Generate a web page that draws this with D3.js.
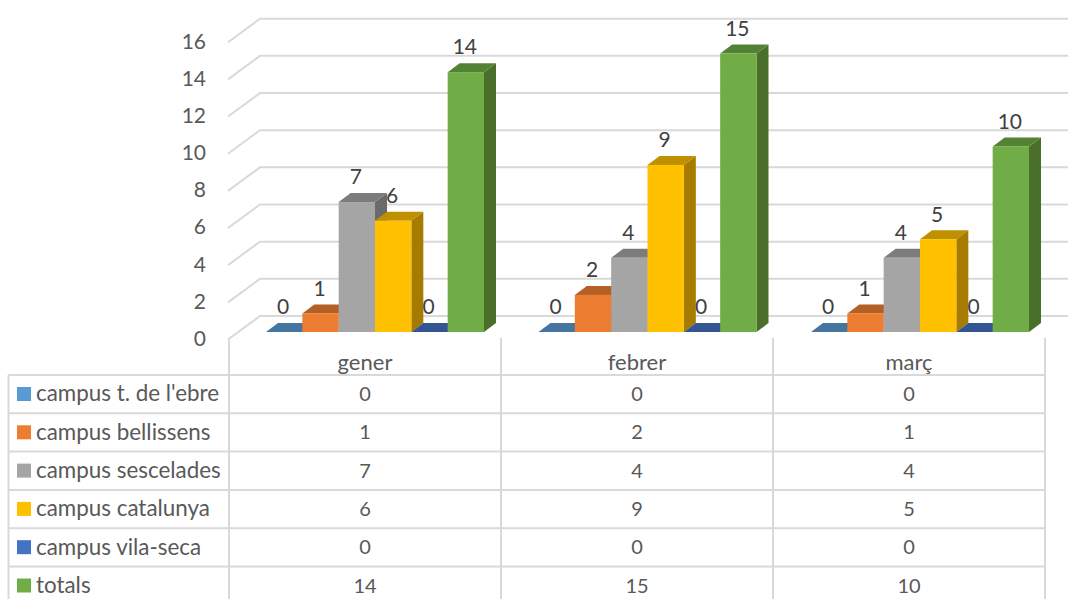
<!DOCTYPE html>
<html><head><meta charset="utf-8">
<script src="https://cdn.jsdelivr.net/npm/d3@7"></script>
<style>html,body{margin:0;padding:0;background:#fff;overflow:hidden}svg{display:block}text{font-family:Lato,"Open Sans",sans-serif}</style>
</head><body><svg id="c" width="1068" height="599"></svg>
<script>
const months = ["gener","febrer","març"];
const seriesNames = ["campus t. de l'ebre","campus bellissens","campus sescelades","campus catalunya","campus vila-seca","totals"];
const tebre = [0,0,0];
const bellissens = [1,2,1];
const sescelades = [7,4,4];
const catalunya = [6,9,5];
const vilaseca = [0,0,0];
const totals = [14,15,10];
const allValues = [tebre,bellissens,sescelades,catalunya,vilaseca,totals];
const yTicks = [0,2,4,6,8,10,12,14,16];
const frontColors = ["#5b9bd5","#ed7d31","#a5a5a5","#ffc000","#4472c4","#70ad47"];
const topColors = ["#44759f","#b65f25","#7c7c7c","#bf9000","#335593","#548235"];
const sideColors = ["#3a6488","#9c5120","#6a6a6a","#a67c00","#2c4a80","#4a6f2b"];

const svg = d3.select("#c");
const grid = "#d9d9d9";
const x0 = d3.scaleBand().domain(months).range([229,1045]);
const xBars = d3.scaleBand().domain(months).range([229,1046.5]);
const x1 = d3.scaleBand().domain(seriesNames).range([37,255]);
const yBar = d3.scaleLinear().domain([0,16]).range([332,35]);
const yWall = d3.scaleLinear().domain([0,16]).range([316,18.7]);
const yLabel = d3.scaleLinear().domain([0,16]).range([338.5,41.5]);
const depthX = 12, depthY = 9, wallDX = 32, wallDY = 23.5;

// walls
const g = svg.append("g").attr("fill","none").attr("stroke",grid).attr("stroke-width",2);
yTicks.forEach(t=>{
  const y = yWall(t);
  g.append("path").attr("d",`M${229-1},${y+wallDY}L260,${y}L1068,${y}`);
});
// axis labels
svg.append("g").selectAll("text").data(yTicks).join("text")
  .attr("x",206).attr("y",d=>yLabel(d)).attr("dy","0.35em").attr("text-anchor","end")
  .attr("font-size",21).attr("fill","#595959").text(d=>d);

// table
const rowLines = d3.scaleLinear().domain([0,1]).range([375,413.3]);
const tg = svg.append("g").attr("stroke",grid).attr("stroke-width",2);
[0,1,2,3,4,5].forEach(i=>{
  tg.append("line").attr("x1",8.5).attr("x2",1045).attr("y1",rowLines(i)).attr("y2",rowLines(i));
});
tg.append("line").attr("x1",8.5).attr("x2",8.5).attr("y1",375).attr("y2",599);
months.concat(["end"]).forEach((m,i)=>{
  const x = i<3 ? x0(m) : x0.range()[1];
  tg.append("line").attr("x1",x).attr("x2",x).attr("y1",338).attr("y2",599);
});
months.forEach(m=>{
  svg.append("text").attr("x",x0(m)+x0.bandwidth()/2).attr("y",362.5).attr("dy","0.35em")
    .attr("text-anchor","middle").attr("font-size",22).attr("fill","#595959").text(m);
});
seriesNames.forEach((s,i)=>{
  const cy = rowLines(i)+19;
  svg.append("rect").attr("x",17).attr("y",cy-7).attr("width",14).attr("height",14).attr("fill",frontColors[i]);
  svg.append("text").attr("x",36).attr("y",cy-0.5).attr("dy","0.35em").attr("font-size",22.4).attr("fill","#595959").text(s);
  months.forEach((m,j)=>{
    svg.append("text").attr("x",x0(m)+x0.bandwidth()/2).attr("y",cy).attr("dy","0.35em")
      .attr("text-anchor","middle").attr("font-size",20).attr("fill","#595959").text(allValues[i][j]);
  });
});

// bars
months.forEach((m,j)=>{
  seriesNames.forEach((s,i)=>{
    const v = allValues[i][j];
    const xl = xBars(m)+x1(s), w = x1.bandwidth(), yT = yBar(v), yB = yBar(0);
    const b = svg.append("g");
    b.append("path").attr("fill",sideColors[i])
      .attr("d",`M${xl+w},${yT}L${xl+w+depthX},${yT-depthY}L${xl+w+depthX},${yB-depthY}L${xl+w},${yB}Z`);
    b.append("path").attr("fill",topColors[i])
      .attr("d",`M${xl},${yT}L${xl+depthX},${yT-depthY}L${xl+w+depthX},${yT-depthY}L${xl+w},${yT}Z`);
    if(v>0) b.append("rect").attr("x",xl).attr("y",yT).attr("width",w).attr("height",yB-yT).attr("fill",frontColors[i]);
  });
});
// data labels
months.forEach((m,j)=>{
  seriesNames.forEach((s,i)=>{
    const v = allValues[i][j];
    svg.append("text").attr("x",xBars(m)+x1(s)+x1.bandwidth()/2-1).attr("y",yBar(v)-25).attr("dy","0.35em")
      .attr("text-anchor","middle").attr("font-size",21).attr("fill","#404040").text(v);
  });
});
</script></body></html>
